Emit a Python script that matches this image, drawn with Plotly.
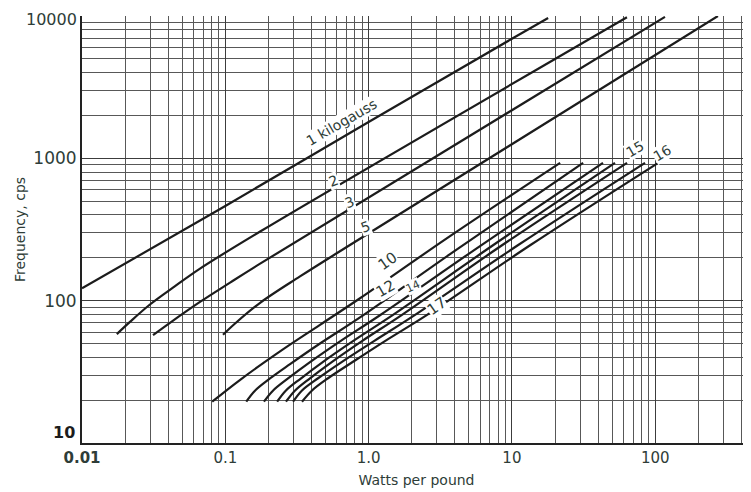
import plotly.graph_objects as go

# Watts per pound (x) and frequency in cps (y)
kg1_w = [0.01, 0.1, 1.0, 10.0, 17.9]
kg1_f = [122, 463, 1800, 6920, 9670]

kg2_w = [0.0175, 0.0216, 0.0298, 0.0446, 0.0666, 0.175, 63.5]
kg2_f = [58.2, 70.9, 94.0, 126.5, 168, 306, 9800]

kg3_w = [0.0313, 0.0411, 0.0666, 0.108, 0.175, 117]
kg3_f = [57.3, 69.9, 98.0, 134, 182, 9850]

kg5_w = [0.0964, 0.117, 0.175, 0.332, 0.741, 274]
kg5_f = [57.6, 69.1, 96.6, 148, 246, 10000]

kg10_w = [0.081, 0.127, 0.241, 0.458, 0.871, 3.70, 21.7]
kg10_f = [19.5, 27.8, 44.0, 67.6, 104, 284, 930]

kg12_w = [0.140, 0.161, 0.205, 0.283, 0.458, 0.871, 3.70, 31.4]
kg12_f = [19.5, 23.3, 28.4, 35.8, 50.0, 76.3, 212, 930]

kg13_w = [0.186, 0.215, 0.274, 0.390, 0.632, 1.20, 5.99, 43.2]
kg13_f = [19.5, 23.3, 28.4, 37.0, 51.8, 79.0, 242, 930]

kg14_w = [0.230, 0.265, 0.338, 0.481, 0.778, 1.48, 7.38, 52.4]
kg14_f = [19.5, 23.4, 28.5, 37.2, 52.0, 79.5, 245, 930]

kg15_w = [0.265, 0.307, 0.390, 0.556, 0.899, 1.71, 8.53, 63.6]
kg15_f = [19.5, 23.4, 28.5, 37.2, 52.0, 79.5, 245, 930]

kg16_w = [0.297, 0.343, 0.444, 0.652, 1.09, 2.11, 11.0, 84.9]
kg16_f = [19.5, 23.4, 28.5, 37.2, 52.0, 79.5, 245, 930]

kg17_w = [0.343, 0.403, 0.521, 0.778, 1.30, 2.56, 13.4, 105]
kg17_f = [19.5, 23.4, 28.5, 37.2, 52.0, 79.5, 245, 930]

curves = [(kg1_w, kg1_f), (kg2_w, kg2_f), (kg3_w, kg3_f), (kg5_w, kg5_f),
          (kg10_w, kg10_f), (kg12_w, kg12_f), (kg13_w, kg13_f), (kg14_w, kg14_f),
          (kg15_w, kg15_f), (kg16_w, kg16_f), (kg17_w, kg17_f)]

x_tickvals = [0.01, 0.1, 1, 10, 100]
x_ticktext = ["<b>0.01</b>", "0.1", "1.0", "10", "100"]
y_tickvals = [100, 1000]
y_ticktext = ["100", "1000"]

# curve labels: text, log10(W), log10(f), angle, size
labels = [
    ("1 kilogauss", -0.186, 3.257, -30, 14),
    ("2", -0.248, 2.840, -20, 14),
    ("3", -0.130, 2.693, -20, 14),
    ("5", -0.025, 2.518, -20, 14),
    ("10", 0.135, 2.280, -35, 15),
    ("12", 0.115, 2.082, -30, 15),
    ("14", 0.310, 2.098, -25, 11),
    ("17", 0.477, 1.965, -35, 15),
    ("15", 1.859, 3.067, -30, 14),
    ("16", 2.048, 3.041, -30, 14),
]

ink = "#1c1c1c"
txt = "#2e3d38"

fig = go.Figure()
for w, f in curves:
    fig.add_trace(go.Scatter(x=w, y=f, mode="lines", line_shape="spline",
                             line=dict(color=ink, width=2.2), showlegend=False,
                             hoverinfo="skip"))

for t, lx, ly, ang, sz in labels:
    fig.add_annotation(x=lx, y=ly, text=t, showarrow=False, textangle=ang,
                       font=dict(size=sz, color=txt), bgcolor="white",
                       borderpad=0)

# end labels of the frequency axis: "10" sits above the corner, "10000" at the top edge
fig.add_annotation(x=0, xref="paper", xanchor="right", xshift=-5,
                   y=1, yref="y", yanchor="bottom", yshift=-1,
                   text="<b>10</b>", showarrow=False,
                   font=dict(size=16, color="#1c1c1c"))
fig.add_annotation(x=0, xref="paper", xanchor="right", xshift=-3,
                   y=4, yref="y", yanchor="middle", yshift=-3,
                   text="10000", showarrow=False,
                   font=dict(size=16, color=txt))

grid_major = dict(showgrid=True, gridcolor="#3c3c3c", gridwidth=1.3)
minor = dict(dtick="D1", showgrid=True, gridcolor="#585858", gridwidth=1, ticks="")

fig.update_xaxes(type="log", range=[-2, 2.6685], tickvals=x_tickvals, ticktext=x_ticktext,
                 minor=minor, showline=True, linecolor="#222", linewidth=2,
                 zeroline=False, ticks="", tickfont=dict(size=15, color=txt),
                 automargin=False,
                 title=dict(text="Watts per pound", font=dict(size=14, color=txt), standoff=9),
                 **grid_major)
fig.update_yaxes(type="log", range=[1, 4], tickvals=y_tickvals, ticktext=y_ticktext,
                 minor=minor, showline=True, linecolor="#222", linewidth=2,
                 zeroline=False, ticks="", tickfont=dict(size=17, color=txt),
                 automargin=False,
                 title=dict(text="Frequency, cps", font=dict(size=14, color=txt), standoff=4),
                 **grid_major)

# the page body keeps an 8px margin, so the figure is sized to fit inside the window
fig.update_layout(width=743, height=484, margin=dict(l=74, r=0, t=8, b=49),
                  paper_bgcolor="white", plot_bgcolor="white",
                  font=dict(family="DejaVu Sans", color=txt))

fig.write_html("out.html")
